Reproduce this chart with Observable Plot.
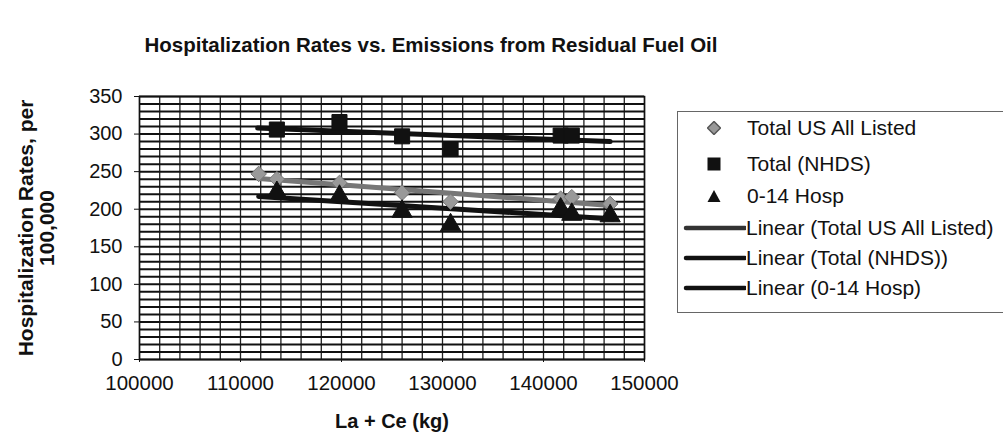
<!DOCTYPE html>
<html>
<head>
<meta charset="utf-8">
<script src="https://cdn.jsdelivr.net/npm/d3@7"></script>
<script src="https://cdn.jsdelivr.net/npm/@observablehq/plot@0.6"></script>
<style>
  html, body { margin: 0; padding: 0; background: #fff; }
  body { width: 1003px; height: 443px; overflow: hidden; position: relative; font-family: "Liberation Sans", Arial, sans-serif; }
  #title { position: absolute; left: 0; width: 862px; top: 33px; text-align: center; font-weight: bold; font-size: 20.5px; color: #111; white-space: nowrap; }
  #chart { position: absolute; left: 0; top: 0; }
  #legend { position: absolute; left: 677px; top: 111px; width: 360px; height: 202px; border: 1px solid #666; box-sizing: border-box; }
  .li { position: absolute; left: 0; height: 26px; display: flex; align-items: center; font-size: 21px; color: #111; white-space: nowrap; }
  .li svg { flex: none; }
</style>
</head>
<body>
<div id="title">Hospitalization Rates vs. Emissions from Residual Fuel Oil</div>
<div id="chart"></div>
<div id="legend"></div>
<script>
// ---- data ----
const totalUSX = [111800, 113600, 119800, 126000, 130800, 141700, 142800, 146600];
const totalUSY = [247, 240, 235, 222, 210, 214, 216, 207];
const nhdsX = [113600, 119800, 126000, 130800, 141700, 142800];
const nhdsY = [306, 316, 297, 280, 298, 298];
const hosp014X = [113600, 119800, 126000, 130800, 141700, 142800, 146600];
const hosp014Y = [222, 217, 197, 179, 200, 193, 191];
// trendline end points
const trendUSX = [111800, 146600];
const trendUSY = [241, 205];
const trendNhdsX = [111700, 146600];
const trendNhdsY = [308, 290];
const trend014X = [111800, 146900];
const trend014Y = [217, 187];
// axis ticks
const xTicks = [100000, 110000, 120000, 130000, 140000, 150000];
const yTicks = [0, 50, 100, 150, 200, 250, 300, 350];
const xGrid = d3.range(100000, 150001, 2000);
const yGrid = d3.range(0, 351, 10);
const seriesNames = ["Total US All Listed", "Total (NHDS)", "0-14 Hosp"];
const trendNames = ["Linear (Total US All Listed)", "Linear (Total (NHDS))", "Linear (0-14 Hosp)"];
const yTitle = ["Hospitalization Rates, per", "100,000"];
const xTitle = "La + Ce (kg)";

const zip = (xs, ys) => xs.map((x, i) => ({x, y: ys[i]}));
const us = zip(totalUSX, totalUSY);
const nhds = zip(nhdsX, nhdsY);
const h014 = zip(hosp014X, hosp014Y);

const plot = Plot.plot({
  width: 1003,
  height: 443,
  marginLeft: 139,
  marginRight: 359,
  marginTop: 96,
  marginBottom: 84,
  style: {fontFamily: "Liberation Sans, Arial, sans-serif", color: "#111", background: "transparent"},
  x: {domain: [100000, 150000]},
  y: {domain: [0, 350]},
  marks: [
    Plot.ruleX(xGrid, {stroke: "#222", strokeWidth: 1.3}),
    Plot.ruleY(yGrid, {stroke: "#111", strokeWidth: 2}),
    Plot.frame({stroke: "#111", strokeWidth: 1.5}),
    Plot.axisY({ticks: yTicks, tickSize: 5, tickPadding: 12, fontSize: 20, label: null, stroke: "#111"}),
    Plot.axisX({ticks: xTicks, tickSize: 3, tickPadding: 13, fontSize: 20.5, tickFormat: d => String(d), label: null}),
    Plot.text([xTitle], {frameAnchor: "bottom", dy: 68, fontSize: 20, fontWeight: "bold"}),
    Plot.text([yTitle[0]], {frameAnchor: "left", textAnchor: "middle", dx: -113, dy: 0, rotate: -90, fontSize: 21, fontWeight: "bold"}),
    Plot.text([yTitle[1]], {frameAnchor: "left", textAnchor: "middle", dx: -92, dy: 0, rotate: -90, fontSize: 21, fontWeight: "bold"}),
    Plot.line(zip(trendNhdsX, trendNhdsY), {x: "x", y: "y", stroke: "#111", strokeWidth: 5, strokeLinecap: "round"}),
    Plot.line(zip(trendUSX, trendUSY), {x: "x", y: "y", stroke: "#777", strokeWidth: 5, strokeLinecap: "round"}),
    Plot.line(zip(trend014X, trend014Y), {x: "x", y: "y", stroke: "#111", strokeWidth: 5, strokeLinecap: "round"}),
    Plot.dot(nhds, {x: "x", y: "y", symbol: "square", r: 8.5, fill: "#111", stroke: "#111", strokeWidth: 1}),
    Plot.dot(us, {x: "x", y: "y", symbol: "diamond2", r: 7, fill: "#999", stroke: "#777", strokeWidth: 1}),
    Plot.dot(h014, {x: "x", y: "y", symbol: "triangle", r: 7.5, fill: "#111", stroke: "#111", strokeWidth: 1})
  ]
});
document.getElementById("chart").appendChild(plot);

// ---- legend ----
const legend = document.getElementById("legend");
const rowsY = [16, 52, 84, 116, 146, 176];
const sym = {
  "Total US All Listed": '<path d="M7,0.5 L13.5,7 L7,13.5 L0.5,7 Z" fill="#999" stroke="#555" stroke-width="1.5"/>',
  "Total (NHDS)": '<rect x="0.5" y="0.5" width="13" height="13" fill="#111"/>',
  "0-14 Hosp": '<path d="M7,1 L13.5,13 L0.5,13 Z" fill="#111"/>'
};
seriesNames.forEach((n, i) => {
  const d = document.createElement("div");
  d.className = "li";
  d.style.top = (rowsY[i] - 13) + "px";
  d.innerHTML = `<svg width="14" height="14" style="margin-left:29px;margin-right:26px">${sym[n]}</svg><span>${n}</span>`;
  legend.appendChild(d);
});
trendNames.forEach((n, i) => {
  const d = document.createElement("div");
  d.className = "li";
  d.style.top = (rowsY[i + 3] - 13) + "px";
  const c = i === 0 ? "#333" : "#111";
  d.innerHTML = `<svg width="68" height="8" style="margin-left:0px"><line x1="8" y1="4" x2="67" y2="4" stroke="${c}" stroke-width="4.5" stroke-linecap="round"/></svg><span>${n}</span>`;
  legend.appendChild(d);
});
</script>
</body>
</html>
